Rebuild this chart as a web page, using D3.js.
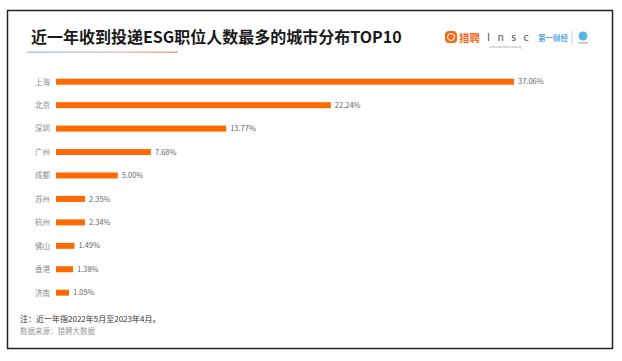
<!DOCTYPE html>
<html><head><meta charset="utf-8">
<script src="https://cdn.jsdelivr.net/npm/d3@7"></script>
<style>
html,body{margin:0;padding:0;background:#fff;}
svg{display:block;font-family:"Noto Sans CJK SC","Noto Sans",sans-serif;}
</style></head>
<body>
<svg id="c" width="622" height="361"></svg>
<script>
const categories = ["上海","北京","深圳","广州","成都","苏州","杭州","佛山","香港","济南"];
const values = [37.06, 22.24, 13.77, 7.68, 5.00, 2.35, 2.34, 1.49, 1.38, 1.05];
const title = "近一年收到投递ESG职位人数最多的城市分布TOP10";
const note = "注：近一年指2022年5月至2023年4月。";
const source = "数据来源：猎聘大数据";

const svg = d3.select("#c");
// frame
svg.append("rect").attr("x",7.5).attr("y",10.5).attr("width",605).attr("height",338)
  .attr("fill","#fff").attr("stroke","#222").attr("stroke-width",1.5);

// title
svg.append("text").attr("x",31).attr("y",43).attr("font-size",16).attr("font-weight","bold")
  .attr("fill","#1a1a1a").text(title);
const defs = svg.append("defs");
const g = defs.append("linearGradient").attr("id","ul");
g.append("stop").attr("offset","0%").attr("stop-color","#a9c4ee");
g.append("stop").attr("offset","60%").attr("stop-color","#e8c4c8");
g.append("stop").attr("offset","100%").attr("stop-color","#f6a36a");
svg.append("rect").attr("x",27).attr("y",51.5).attr("width",151).attr("height",1.5).attr("fill","url(#ul)");

// logos
const lg = svg.append("g");
lg.append("rect").attr("x",445).attr("y",31).attr("width",12).attr("height",12).attr("rx",4).attr("fill","#f26c1c");
lg.append("circle").attr("cx",451).attr("cy",37).attr("r",3.5).attr("fill","none").attr("stroke","#fff").attr("stroke-width",1);
lg.append("text").attr("x",459).attr("y",42).attr("font-size",10.5).attr("font-weight","bold").attr("fill","#f26c1c").text("猎聘");
lg.append("text").attr("x",487).attr("y",41).attr("font-size",10.5).attr("fill","#555").attr("letter-spacing",2.5).text("I n s c");
lg.append("text").attr("x",489).attr("y",47.5).attr("font-size",2.2).attr("fill","#999").text("Global Sustainability Consulting");
lg.append("text").attr("x",538).attr("y",40.5).attr("font-size",7.5).attr("font-weight","bold").attr("fill","#58a8e8").text("第一财经");
lg.append("line").attr("x1",572).attr("x2",572).attr("y1",31).attr("y2",44).attr("stroke","#ccc");
lg.append("circle").attr("cx",583).attr("cy",36).attr("r",4.5).attr("fill","#5ab4e6");
lg.append("rect").attr("x",578).attr("y",42).attr("width",10).attr("height",1.5).attr("fill","#bbb");

// scales
const x = d3.scaleLinear().domain([0, 37.06]).range([56, 514]);
const y = d3.scalePoint().domain(categories).range([81.7, 292.7]);
const barH = 6;

svg.append("g").selectAll("rect").data(values).join("rect")
  .attr("x", x(0)).attr("y",(d,i)=>y(categories[i])-barH/2)
  .attr("width",d=>x(d)-x(0)).attr("height",barH).attr("fill","#ff6a00");

const yAxis = d3.axisLeft(y).tickSize(0).tickPadding(0);
const ax = svg.append("g").attr("transform","translate(50,0)").call(yAxis);
ax.select(".domain").remove();
ax.selectAll("text").attr("font-size",7.5).attr("fill","#888").attr("font-family","Noto Sans CJK SC");

svg.append("g").selectAll("text").data(values).join("text")
  .attr("x",d=>x(d)+4).attr("y",(d,i)=>y(categories[i])).attr("dy","0.35em")
  .attr("font-size",7.5).attr("fill","#666").text(d=>d.toFixed(2)+"%");

svg.append("text").attr("x",20).attr("y",322).attr("font-size",8).attr("fill","#333").text(note);
svg.append("text").attr("x",20).attr("y",334).attr("font-size",7.5).attr("fill","#999").text(source);
</script>
</body></html>
